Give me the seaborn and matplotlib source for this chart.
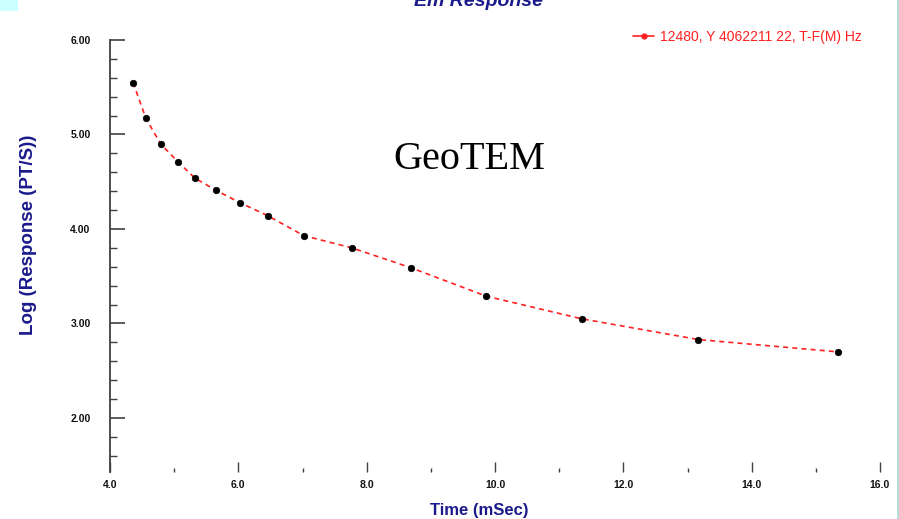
import matplotlib
matplotlib.use("Agg")
import matplotlib.pyplot as plt
from matplotlib.lines import Line2D
from matplotlib.patches import Rectangle
import seaborn as sns
import pandas as pd
import numpy as np

time_ms = [4.36, 4.56, 4.79, 5.06, 5.32, 5.65, 6.02, 6.46, 7.02, 7.77,
           8.69, 9.86, 11.35, 13.17, 15.34]
log_resp = [5.55, 5.17, 4.90, 4.71, 4.54, 4.41, 4.28, 4.14, 3.93, 3.80,
            3.59, 3.29, 3.05, 2.83, 2.70]
x_ticks = [4.0, 6.0, 8.0, 10.0, 12.0, 14.0, 16.0]
y_ticks = [2.0, 3.0, 4.0, 5.0, 6.0]
series_label = "12480, Y 4062211 22, T-F(M) Hz"

df = pd.DataFrame({"Time": time_ms, "Resp": log_resp})

sns.set_theme(style="white")
plt.rcParams['font.family'] = ['Liberation Sans', 'DejaVu Sans']

W, H = 899, 519
fig = plt.figure(figsize=(W / 100, H / 100), dpi=100)
fig.patch.set_facecolor("white")

left_px, right_px = 0, 886
top_px, bot_px = 40, 472
ax = fig.add_axes([left_px / W, 1 - bot_px / H, (right_px - left_px) / W, (bot_px - top_px) / H])
ax.set_facecolor("white")

sns.lineplot(data=df, x="Time", y="Resp", ax=ax, color="#ff2020",
             linewidth=1.2, linestyle=(0, (3, 2.5)), zorder=2)
sns.scatterplot(data=df, x="Time", y="Resp", ax=ax, color="black",
                marker="o", s=22, edgecolor="black", linewidth=0.5, zorder=3)

for s in ["top", "right", "bottom"]:
    ax.spines[s].set_visible(False)
ax.spines["left"].set_position(("data", 4.0))
ax.spines["left"].set_color("#404040")
ax.spines["left"].set_linewidth(1.3)

ax.set_xticks(x_ticks)
ax.set_xticklabels([f"{v:.1f}" for v in x_ticks])
ax.set_xticks(np.arange(5.0, 16.0, 2.0), minor=True)
ax.set_yticks(y_ticks)
ax.set_yticklabels([f"{v:.2f}" for v in y_ticks])
ax.set_yticks(np.arange(1.6, 6.0, 0.2), minor=True)

# limits after ticks (x=4.0 at px 110, 16.0 at px 880; y=6 at px 40, 2 at px 418)
pxs = (880 - 110) / 12.0
ax.set_xlim(4.0 - (110 - left_px) / pxs, 16.0 + (right_px - 880) / pxs)
pys = (418 - 40) / 4.0
ax.set_ylim(6.0 - (bot_px - top_px) / pys, 6.0)

ax.tick_params(axis="y", which="major", direction="in", length=11, width=1.2,
               color="#404040", left=True, labelsize=7.5, pad=14)
ax.tick_params(axis="y", which="minor", direction="in", length=5, width=1.0,
               color="#404040", left=True)
ax.tick_params(axis="x", which="major", direction="in", length=7, width=1.0,
               color="#404040", bottom=True, labelsize=7.5, pad=6)
ax.tick_params(axis="x", which="minor", direction="in", length=3, width=1.0,
               color="#404040", bottom=True)
for lab in ax.get_xticklabels() + ax.get_yticklabels():
    lab.set_fontweight("bold")
    lab.set_color("#111111")

ax.set_xlabel("")
ax.set_ylabel("")

navy = "#1a1a8c"
fig.text(479 / W, 1 - 510 / H, "Time (mSec)", ha="center", va="center",
         color=navy, fontsize=12, fontweight="bold")
fig.text(29 / W, 1 - 235 / H, "Log (Response (PT/S))", ha="center", va="center",
         rotation=90, color=navy, fontsize=13.5, fontweight="bold")
fig.text(478 / W, 1 - 1 / H, "Em Response", ha="center", va="center",
         color=navy, fontsize=14, fontweight="bold", style="italic")

fig.text(469 / W, 1 - 160 / H, "GeoTEM", ha="center", va="center",
         family=["Liberation Serif"], fontsize=29, color="black")

handle = Line2D([0], [0], color="#ff2020", linewidth=1.2, marker="o",
                markersize=3.5, markerfacecolor="#ff2020")
leg = ax.legend([handle], [series_label], loc="upper right",
                bbox_to_anchor=(874 / W, 1 - 17 / H), bbox_transform=fig.transFigure,
                frameon=False, fontsize=10, handlelength=1.5, handletextpad=0.4)
for t in leg.get_texts():
    t.set_color("#ff2020")

fig.patches.append(Rectangle((0, 1 - 11 / H), 18 / W, 11 / H, transform=fig.transFigure,
                             facecolor="#ccffff", edgecolor="none"))
fig.add_artist(Line2D([897.5 / W, 897.5 / W], [0, 1], transform=fig.transFigure,
                      color="#9fd8d8", linewidth=1.2))

fig.savefig("out.png", dpi=100, facecolor="white")
